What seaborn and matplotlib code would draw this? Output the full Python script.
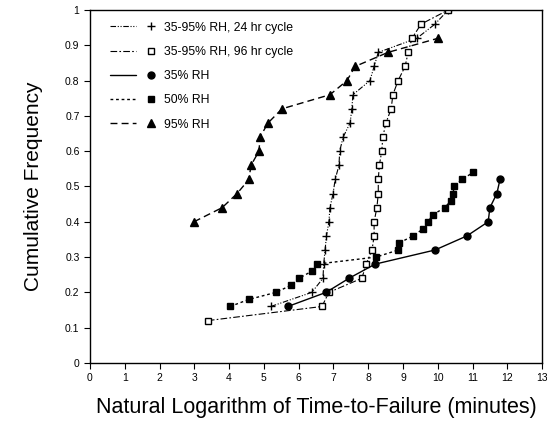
import seaborn as sns
import pandas as pd
import matplotlib.pyplot as plt
from matplotlib.lines import Line2D
from matplotlib.legend_handler import HandlerTuple

sns.set_theme(style="ticks")
plt.rcParams['font.family'] = ['Liberation Sans', 'DejaVu Sans']

# cumulative frequency (y) vs ln(time-to-failure) (x)
cyc24_y = [0.16, 0.20, 0.24, 0.28, 0.32, 0.36, 0.40, 0.44, 0.48, 0.52, 0.56,
           0.60, 0.64, 0.68, 0.72, 0.76, 0.80, 0.84, 0.88, 0.92, 0.96, 1.00]
cyc24_x = [5.20, 6.38, 6.70, 6.72, 6.76, 6.80, 6.87, 6.90, 6.99, 7.05, 7.16,
           7.18, 7.28, 7.48, 7.53, 7.56, 8.05, 8.17, 8.29, 9.40, 9.92, 10.30]

cyc96_y = [0.12, 0.16, 0.20, 0.24, 0.28, 0.32, 0.36, 0.40, 0.44, 0.48, 0.52, 0.56,
           0.60, 0.64, 0.68, 0.72, 0.76, 0.80, 0.84, 0.88, 0.92, 0.96, 1.00]
cyc96_x = [3.39, 6.67, 6.87, 7.82, 7.94, 8.11, 8.17, 8.17, 8.25, 8.29, 8.29, 8.32,
           8.39, 8.42, 8.51, 8.66, 8.71, 8.86, 9.06, 9.15, 9.26, 9.52, 10.30]

rh35_y = [0.16, 0.20, 0.24, 0.28, 0.32, 0.36, 0.40, 0.44, 0.48, 0.52]
rh35_x = [5.69, 6.79, 7.45, 8.20, 9.92, 10.84, 11.45, 11.50, 11.70, 11.79]

rh50_y = [0.16, 0.18, 0.20, 0.22, 0.24, 0.26, 0.28, 0.30, 0.32, 0.34,
          0.36, 0.38, 0.40, 0.42, 0.44, 0.46, 0.48, 0.50, 0.52, 0.54]
rh50_x = [4.03, 4.57, 5.35, 5.78, 6.01, 6.38, 6.52, 8.23, 8.86, 8.89,
          9.29, 9.58, 9.72, 9.86, 10.20, 10.38, 10.44, 10.47, 10.70, 11.02]

rh95_y = [0.40, 0.44, 0.48, 0.52, 0.56, 0.60, 0.64, 0.68, 0.72, 0.76, 0.80, 0.84, 0.88, 0.92]
rh95_x = [2.99, 3.80, 4.23, 4.57, 4.63, 4.86, 4.89, 5.12, 5.52, 6.90, 7.39, 7.62, 8.57, 10.01]

series = [
    ("35-95% RH, 24 hr cycle", cyc24_x, cyc24_y,
     dict(marker="+", ls=(0, (5, 1.5, 1, 1.5, 1, 1.5)), mfc="black", ms=6, lw=0.8)),
    ("35-95% RH, 96 hr cycle", cyc96_x, cyc96_y,
     dict(marker="s", ls=(0, (6, 2, 1.5, 2)), mfc="white", ms=4.5, lw=0.8)),
    ("35% RH", rh35_x, rh35_y,
     dict(marker="o", ls="-", mfc="black", ms=5, lw=1.0)),
    ("50% RH", rh50_x, rh50_y,
     dict(marker="s", ls=(0, (2, 2)), mfc="black", ms=5, lw=1.0)),
    ("95% RH", rh95_x, rh95_y,
     dict(marker="^", ls=(0, (5, 3)), mfc="black", ms=5.5, lw=1.0)),
]

fig = plt.figure(figsize=(5.47, 4.26), dpi=100)
ax = fig.add_axes([0.1645, 0.148, 0.8265, 0.8285])

handles = []
for label, xs, ys, st in series:
    df = pd.DataFrame({"x": xs, "y": ys})
    sns.lineplot(data=df, x="x", y="y", ax=ax, estimator=None, sort=False,
                 color="black", marker=st["marker"], linestyle=st["ls"],
                 linewidth=st["lw"], markersize=st["ms"],
                 markerfacecolor=st["mfc"], markeredgecolor="black",
                 markeredgewidth=1.0)
    ln = Line2D([], [], color="black", linestyle=st["ls"], linewidth=st["lw"])
    mk = Line2D([], [], color="black", linestyle="none", marker=st["marker"],
                markersize=st["ms"], markerfacecolor=st["mfc"],
                markeredgecolor="black", markeredgewidth=1.0)
    handles.append((ln, mk))

ax.set_xlim(0, 13)
ax.set_ylim(0, 1)
ax.set_xticks(range(0, 14))
ax.set_yticks([0, 0.1, 0.2, 0.3, 0.4, 0.5, 0.6, 0.7, 0.8, 0.9, 1])
ax.set_yticklabels(["0", "0.1", "0.2", "0.3", "0.4", "0.5", "0.6", "0.7", "0.8", "0.9", "1"])
ax.tick_params(labelsize=7.5, length=4, width=0.8, color="black", labelcolor="black")
for sp in ax.spines.values():
    sp.set_color("black")
    sp.set_linewidth(1.0)

ax.set_xlabel("Natural Logarithm of Time-to-Failure (minutes)", fontsize=15.5,
              labelpad=10, color="black")
ax.set_ylabel("Cumulative Frequency", fontsize=15, labelpad=16, color="black")

leg = ax.legend(handles, [s[0] for s in series],
                handler_map={tuple: HandlerTuple(ndivide=2, pad=0.2)},
                loc="upper left", bbox_to_anchor=(0.02, 0.998), frameon=False,
                fontsize=8.8, handlelength=4.4, handletextpad=0.05, labelspacing=1.0)
for t in leg.get_texts():
    t.set_color("black")

fig.savefig("out.png", dpi=100)
